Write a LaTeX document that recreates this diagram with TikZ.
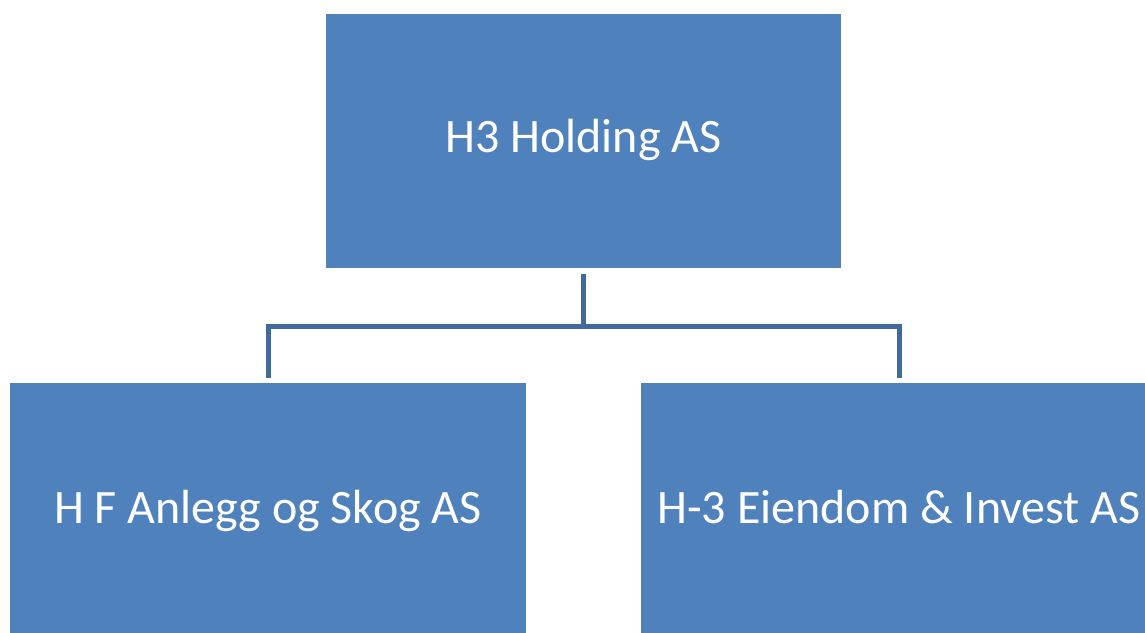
\documentclass[tikz,border=0pt]{standalone}
\usepackage{fontspec}
\setmainfont{Carlito}
\usepackage{tikz}
\usetikzlibrary{arrows.meta}

\definecolor{boxblue}{HTML}{4F81BD}
\definecolor{linkblue}{HTML}{41699A}

\tikzset{
    company/.style={draw=none, fill=boxblue, minimum width=516pt, minimum height=254pt, inner sep=0pt},
    firmname/.style={text=white, font=\fontsize{48}{58}\selectfont, anchor=base, inner sep=0pt},
    link/.style={draw=linkblue, line width=5pt}
}

\begin{document}
\begin{tikzpicture}[x=1pt, y=1pt]
    \useasboundingbox (0,0) rectangle (1145,632);
    \node [company, minimum width=515pt] (holding) at (583.5,491) {};
    \node [company] (anlegg) at (268,122) {};
    \node [company] (eiendom) at (899,122) {};
    \node [firmname] (holdingname) at (583.5,479) {H3 Holding AS};
    \node [firmname] (anleggname) at (268,109) {H F Anlegg og Skog AS};
    \node [firmname] (eiendomname) at (899,109) {H-3 Eiendom \& Invest AS};
    \draw [link] ([yshift=-6pt]holding.south) -- ++(0,-52) coordinate (fork);
    \draw [link] ([yshift=5pt]anlegg.north) |- (fork) -| ([yshift=5pt]eiendom.north);
\end{tikzpicture}
\end{document}
